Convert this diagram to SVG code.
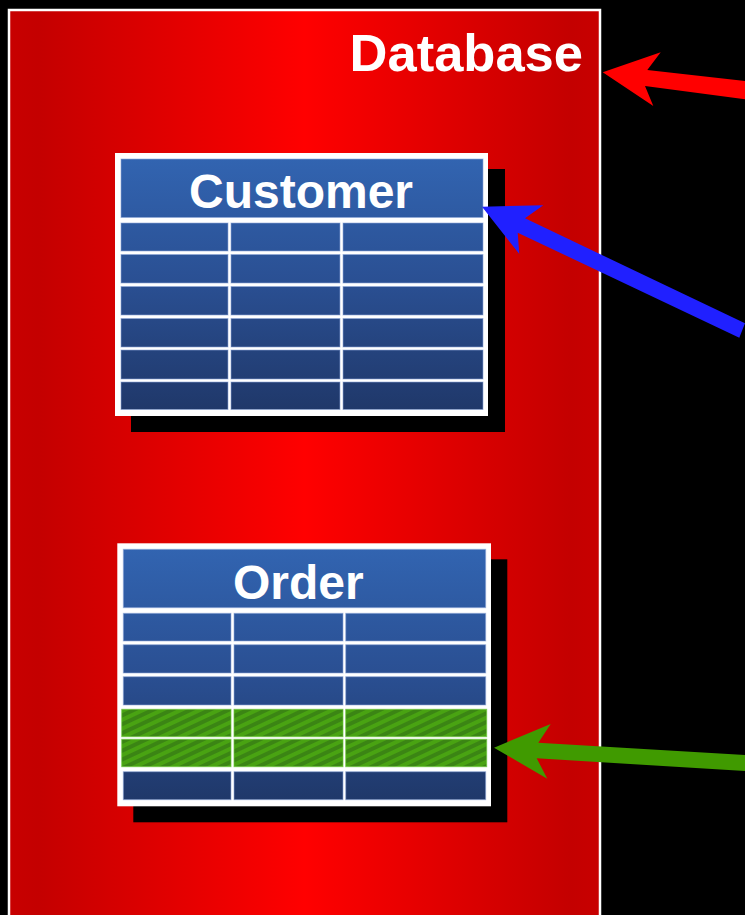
<svg xmlns="http://www.w3.org/2000/svg" width="745" height="915" viewBox="0 0 745 915">
<defs>
<linearGradient id="dbGrad" x1="0" y1="0" x2="1" y2="0">
<stop offset="0" stop-color="#c80000"/>
<stop offset="0.05" stop-color="#c40000"/>
<stop offset="0.5" stop-color="#ff0000"/>
<stop offset="0.95" stop-color="#c40000"/>
<stop offset="1" stop-color="#c80000"/>
</linearGradient>
<linearGradient id="tblGrad" gradientUnits="userSpaceOnUse" x1="0" y1="0" x2="0" y2="263">
<stop offset="0" stop-color="#3265b2"/>
<stop offset="0.5" stop-color="#2a4f92"/>
<stop offset="1" stop-color="#1f3768"/>
</linearGradient>
<pattern id="hatch" patternUnits="userSpaceOnUse" width="8" height="8" patternTransform="rotate(-25)">
<rect width="8" height="8" fill="#3b8514"/>
<rect width="8" height="4" fill="#49a312"/>
</pattern>
<style>
.title{font-family:"Liberation Sans",Arial,sans-serif;font-weight:bold;fill:#ffffff;}
.cell{fill:url(#tblGrad);stroke:#8fa8d8;stroke-opacity:0.6;stroke-width:1;}
.gcell{fill:url(#hatch);stroke:#6cc83a;stroke-opacity:0.7;stroke-width:1;}
.frame{fill:#ffffff;}
.shadow{fill:#000000;}
</style>
</defs>
<rect width="745" height="915" fill="#000000"/>
<g id="database">
<rect x="9" y="10" width="591" height="920" fill="url(#dbGrad)" stroke="#ffffff" stroke-width="2.5"/>
<text class="title" x="583" y="71" font-size="52.5" text-anchor="end">Database</text>
</g>
<g id="customer" transform="translate(115,153)">
<rect class="shadow" x="16" y="16" width="374" height="263"/>
<rect class="frame" x="0" y="0" width="373" height="263"/>
<rect class="cell" x="6" y="6" width="362" height="58.5"/>
<text class="title" x="186" y="55" font-size="48" text-anchor="middle">Customer</text>
<g>
<rect class="cell" x="6" y="70" width="107" height="28"/><rect class="cell" x="116" y="70" width="109" height="28"/><rect class="cell" x="228" y="70" width="140" height="28"/>
<rect class="cell" x="6" y="101.5" width="107" height="28.5"/><rect class="cell" x="116" y="101.5" width="109" height="28.5"/><rect class="cell" x="228" y="101.5" width="140" height="28.5"/>
<rect class="cell" x="6" y="133.5" width="107" height="28.5"/><rect class="cell" x="116" y="133.5" width="109" height="28.5"/><rect class="cell" x="228" y="133.5" width="140" height="28.5"/>
<rect class="cell" x="6" y="165.5" width="107" height="28.5"/><rect class="cell" x="116" y="165.5" width="109" height="28.5"/><rect class="cell" x="228" y="165.5" width="140" height="28.5"/>
<rect class="cell" x="6" y="197" width="107" height="29"/><rect class="cell" x="116" y="197" width="109" height="29"/><rect class="cell" x="228" y="197" width="140" height="29"/>
<rect class="cell" x="6" y="229" width="107" height="27.5"/><rect class="cell" x="116" y="229" width="109" height="27.5"/><rect class="cell" x="228" y="229" width="140" height="27.5"/>
</g>
</g>
<g id="order" transform="translate(117.3,543.3)">
<rect class="shadow" x="16" y="16" width="374" height="263"/>
<rect class="frame" x="0" y="0" width="373.7" height="263"/>
<rect class="cell" x="6" y="6" width="362.4" height="58.4"/>
<text class="title" x="181" y="56" font-size="48" text-anchor="middle">Order</text>
<g>
<rect class="cell" x="6" y="70" width="107.7" height="27.7"/><rect class="cell" x="116.7" y="70" width="109" height="27.7"/><rect class="cell" x="228.4" y="70" width="140" height="27.7"/>
<rect class="cell" x="6" y="101.4" width="107.7" height="28.3"/><rect class="cell" x="116.7" y="101.4" width="109" height="28.3"/><rect class="cell" x="228.4" y="101.4" width="140" height="28.3"/>
<rect class="cell" x="6" y="133.4" width="107.7" height="28.3"/><rect class="cell" x="116.7" y="133.4" width="109" height="28.3"/><rect class="cell" x="228.4" y="133.4" width="140" height="28.3"/>
<rect class="gcell" x="4.4" y="166" width="109.3" height="27.4"/><rect class="gcell" x="116.7" y="166" width="109" height="27.4"/><rect class="gcell" x="228.4" y="166" width="141" height="27.4"/>
<rect class="gcell" x="4.4" y="196" width="109.3" height="27.4"/><rect class="gcell" x="116.7" y="196" width="109" height="27.4"/><rect class="gcell" x="228.4" y="196" width="141" height="27.4"/>
<rect class="cell" x="6" y="228.4" width="107.7" height="28"/><rect class="cell" x="116.7" y="228.4" width="109" height="28"/><rect class="cell" x="228.4" y="228.4" width="140" height="28"/>
</g>
</g>
<g id="connectors">
<polygon fill="#ff0000" points="602.7,72.3 660.7,52.3 647.3,70 745,81 745,99.3 645,86 653.3,106"/>
<polygon fill="#2020ff" points="482,206.7 543.3,205.3 525,218.3 745,323.3 739.3,337.7 517.7,232.7 519.3,254"/>
<polygon fill="#409a00" points="494,747.7 550.7,724 538.3,742.7 745,755 745,771 536.7,758.3 547.3,778.7"/>
</g>
</svg>
